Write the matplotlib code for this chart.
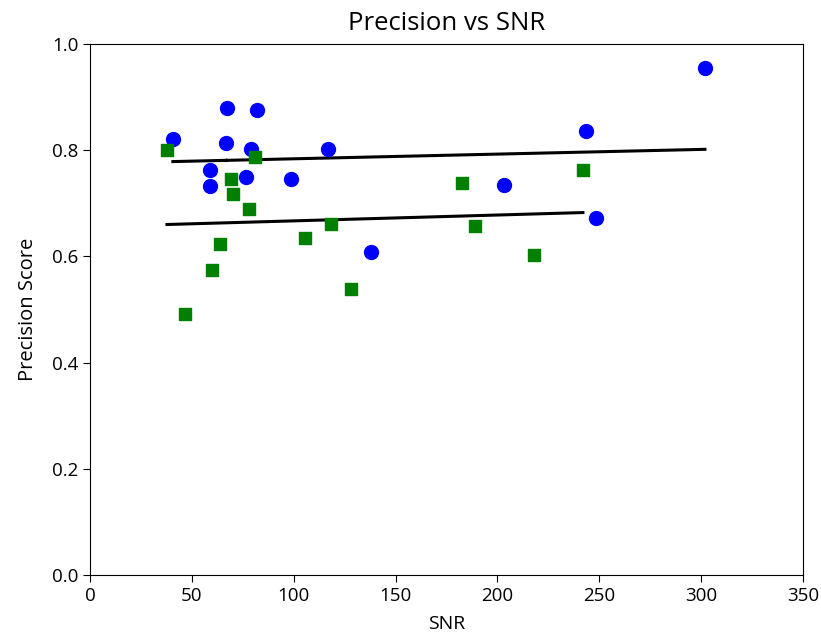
import numpy as np
import matplotlib
matplotlib.use("Agg")
import matplotlib.pyplot as plt

plt.rcParams["font.family"] = ["Open Sans", "DejaVu Sans"]

# Blue series: SNR and precision
snr_a = [40.7, 58.9, 58.9, 67.3, 66.8, 76.6, 79.0, 82.0, 98.7, 116.8,
         137.9, 203.2, 243.5, 248.4, 301.9]
prec_a = [0.821, 0.763, 0.733, 0.879, 0.814, 0.750, 0.802, 0.876, 0.746, 0.802,
          0.608, 0.734, 0.836, 0.672, 0.955]

# Green series: SNR and precision
snr_b = [37.8, 46.6, 59.9, 63.8, 69.2, 70.2, 78.1, 81.0, 105.5, 118.3,
         128.1, 182.6, 189.0, 218.0, 242.0]
prec_b = [0.800, 0.492, 0.574, 0.623, 0.746, 0.718, 0.689, 0.787, 0.635, 0.661,
          0.539, 0.738, 0.657, 0.603, 0.763]

x_ticks = [0, 50, 100, 150, 200, 250, 300, 350]
y_ticks = [0.0, 0.2, 0.4, 0.6, 0.8, 1.0]

fig = plt.figure(figsize=(8.21, 6.36), dpi=100)
ax = fig.add_axes([0.1096, 0.0959, 0.978 - 0.1096, 0.9308 - 0.0959])

ax.scatter(snr_a, prec_a, c="blue", marker="o", s=100, zorder=3)
ax.scatter(snr_b, prec_b, c="green", marker="s", s=85, zorder=3)

# Linear trend for each series
for xs, ys in ((snr_a, prec_a), (snr_b, prec_b)):
    xs = np.asarray(xs)
    fit = np.poly1d(np.polyfit(xs, ys, 1))
    ax.plot(xs, fit(xs), color="black", linewidth=2.2, zorder=2)

ax.set_xlim(0, 350)
ax.set_ylim(0, 1.0)
ax.set_xticks(x_ticks)
ax.set_yticks(y_ticks)
ax.tick_params(labelsize=13.5, length=5)
ax.set_xlabel("SNR", fontsize=14, labelpad=7)
ax.set_ylabel("Precision Score", fontsize=14.5, labelpad=10)
ax.set_title("Precision vs SNR", fontsize=18.5, pad=10)

fig.savefig("out.png", dpi=100)
